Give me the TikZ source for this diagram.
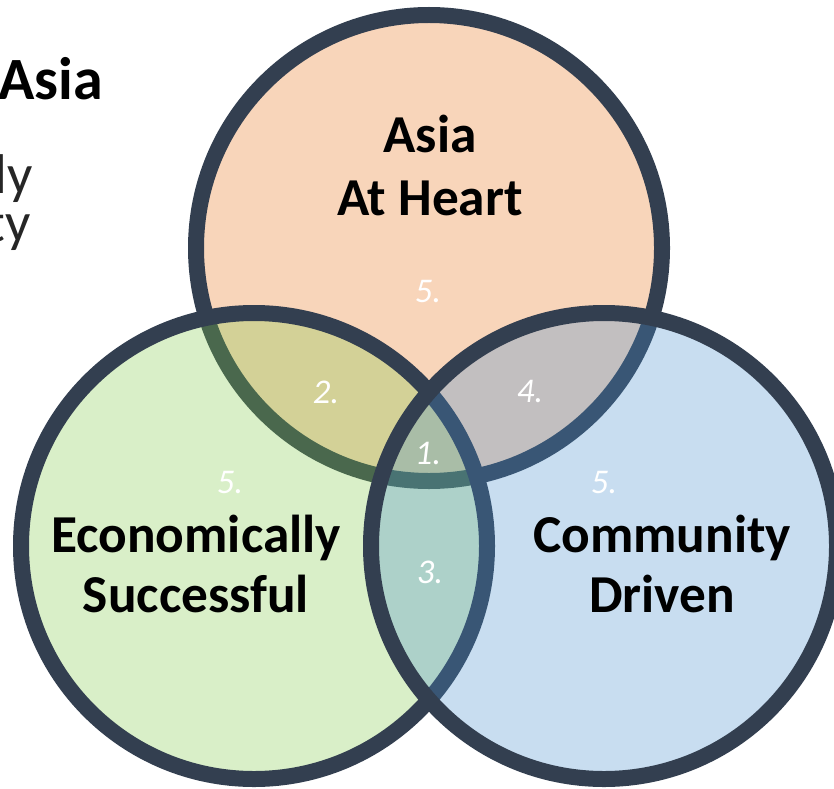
\documentclass[tikz,border=0pt]{standalone}
\usepackage{fontspec}
\setmainfont{Carlito}
\usepackage{tikz}
\definecolor{ringline}{RGB}{51,63,80}
\definecolor{asiaorange}{RGB}{232,115,28}
\definecolor{econgreen}{RGB}{128,202,72}
\definecolor{commblue}{RGB}{72,142,205}
\definecolor{sidegrey}{RGB}{38,38,38}

\begin{document}
\begin{tikzpicture}[x=0.75pt,y=-0.75pt,
    every node/.style={inner sep=0pt},
    ring/.style={circle,draw=ringline,line width=12pt,minimum size=349.5pt,fill opacity=0.3},
    title/.style={anchor=base,font=\bfseries\fontsize{40}{48}\selectfont},
    side/.style={anchor=base east,text=sidegrey,font=\fontsize{42}{50}\selectfont},
    num/.style={text=white,font=\itshape\fontsize{26}{31}\selectfont}]
    \useasboundingbox (0,0) rectangle (834,788);
    % cut-off text of the slide
    \node[anchor=base east,font=\bfseries\fontsize{45}{54}\selectfont] (sideAsia) at (103,100) {Asia};
    \node[side] (sideLy) at (33,193) {ly};
    \node[side] (sideTy) at (31,241) {ty};
    % the three circles
    \node[ring,fill=asiaorange] (asia) at (429,248) {};
    \node[ring,fill=econgreen] (econ) at (254,546) {};
    \node[ring,fill=commblue] (comm) at (604,546) {};
    % titles
    \node[title] (asiaTop) at (430,152) {Asia};
    \node[title] (asiaBot) at (430,215) {At Heart};
    \node[title] (econTop) at (196,552) {Economically};
    \node[title] (econBot) at (196,612) {Successful};
    \node[title] (commTop) at (662,552) {Community};
    \node[title] (commBot) at (662,612) {Driven};
    % region numbers
    \node[num] (all) at (428,453) {1.};
    \node[num] (asiaEcon) at (326,392) {2.};
    \node[num] (econComm) at (430,572) {3.};
    \node[num] (asiaComm) at (530,392) {4.};
    \node[num] (asiaOnly) at (428,292) {5.};
    \node[num] (econOnly) at (230,483) {5.};
    \node[num] (commOnly) at (604,483) {5.};
  \end{tikzpicture}
\end{document}
